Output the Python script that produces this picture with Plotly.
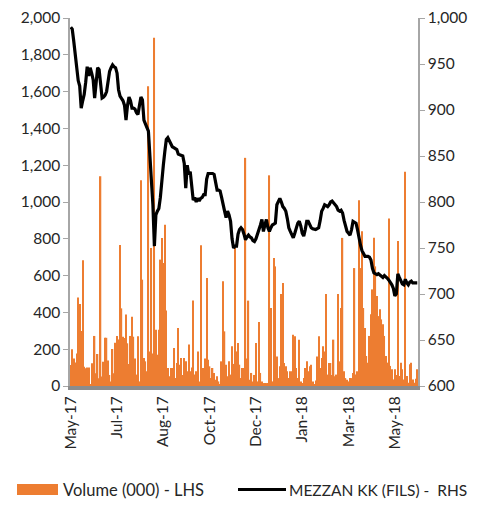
import plotly.graph_objects as go

# ---- data ----
tick_labels = ["May-17", "Jul-17", "Aug-17", "Oct-17", "Dec-17", "Jan-18", "Mar-18", "May-18"]
tick_positions = [0, 31, 62, 93, 124, 155, 186, 217]

volume = [
    114, 200, 150, 128, 177, 481, 445, 299, 684, 105,
    96, 100, 101, 10, 123, 60, 272, 69, 174, 42,
    1140, 51, 132, 262, 262, 138, 60, 24, 201, 69,
    235, 272, 253, 766, 422, 268, 261, 389, 232, 120,
    272, 377, 268, 150, 62, 270, 25, 1118, 578, 152,
    134, 80, 1629, 188, 750, 177, 1892, 306, 170, 306,
    687, 805, 669, 877, 410, 98, 53, 98, 98, 207,
    43, 125, 315, 116, 152, 60, 152, 134, 80, 225,
    80, 100, 464, 62, 80, 188, 25, 765, 98, 98,
    150, 587, 143, 107, 43, 98, 71, 34, 53, 25,
    7, 134, 569, 297, 116, 53, 134, 62, 216, 120,
    750, 188, 234, 116, 43, 98, 98, 1240, 150, 464,
    34, 71, 25, 60, 234, 25, 348, 71, 25, 16,
    16, 16, 16, 1145, 424, 25, 696, 650, 161, 43,
    107, 500, 560, 125, 107, 80, 43, 80, 80, 279,
    270, 98, 43, 252, 25, 16, 43, 98, 134, 80,
    107, 116, 25, 7, 30, 161, 270, 98, 152, 216,
    188, 500, 62, 125, 125, 60, 252, 53, 62, 500,
    134, 424, 805, 80, 43, 34, 25, 43, 43, 71,
    641, 62, 80, 1010, 641, 841, 424, 315, 163, 127,
    272, 390, 525, 806, 650, 489, 380, 417, 362, 335,
    272, 163, 127, 910, 109, 91, 36, 91, 60, 788,
    54, 127, 91, 36, 1165, 54, 18, 118, 127, 36,
    18, 40, 91,
]

price = [
    990, 988, 975, 960, 940, 932, 926, 902, 910, 917,
    930, 947, 937, 946, 940, 933, 913, 930, 946, 944,
    925, 913, 914, 916, 920, 935, 942, 946, 949, 947,
    946, 940, 922, 915, 913, 910, 905, 889, 905, 914,
    910, 902, 902, 901, 897, 895, 905, 914, 911, 889,
    885, 881, 877, 850, 824, 797, 752, 786, 790, 793,
    805, 819, 840, 855, 868, 870, 866, 863, 860, 859,
    858, 857, 852, 851, 851, 850, 842, 815, 840, 830,
    833, 815, 802, 805, 800, 804, 801, 804, 805, 808,
    808, 825, 831, 831, 831, 831, 830, 822, 813, 813,
    812, 805, 795, 790, 783, 790, 786, 779, 760, 750,
    752, 752, 765, 770, 772, 770, 765, 759, 762, 764,
    762, 761, 758, 757, 760, 765, 768, 775, 781, 768,
    775, 781, 772, 768, 772, 775, 776, 777, 797, 800,
    804, 800, 795, 793, 790, 782, 772, 768, 764, 761,
    766, 773, 777, 779, 774, 766, 763, 770, 779, 779,
    775, 772, 771, 770, 770, 771, 772, 780, 790, 793,
    797, 796, 795, 797, 800, 801, 799, 797, 795, 791,
    790, 791, 788, 780, 773, 768, 766, 764, 770, 779,
    778, 777, 770, 760, 753, 747, 743, 741, 741, 741,
    740, 737, 728, 723, 722, 721, 722, 721, 719, 718,
    720, 719, 717, 715, 713, 710, 706, 698, 700, 722,
    718, 714, 711, 710, 716, 712, 710, 713, 714, 712,
    712, 712, 712,
]

series_names = ["Volume (000) - LHS", "MEZZAN KK (FILS) -\u00a0\u00a0RHS"]

x = list(range(len(price)))

FONT = "Lato"
TXT = "#262626"
TICK_SIZE = 15.5
LEG_SIZE = 15.5

# page body has an 8px default margin, so the figure is sized/offset to compensate
OFF = 8
W, H = 482 - OFF, 527 - OFF
ML, MR, MT, MB = 70 - OFF, 64, 18 - OFF, 141

fig = go.Figure()
fig.add_trace(go.Bar(
    x=x, y=volume, name=series_names[0],
    marker=dict(color="#ED7D31", line=dict(width=0)),
    yaxis="y",
))
fig.add_trace(go.Scatter(
    x=x, y=price, name=series_names[1],
    mode="lines", line=dict(color="#000000", width=3.2),
    yaxis="y2",
))

fig.update_layout(
    width=W, height=H,
    margin=dict(l=ML, r=MR, t=MT, b=MB, autoexpand=False),
    paper_bgcolor="white", plot_bgcolor="white",
    showlegend=False,
    bargap=0.12,
    font=dict(family=FONT, size=TICK_SIZE, color=TXT),
    xaxis=dict(
        range=[-0.5, len(price) - 0.5],
        tickmode="array", tickvals=tick_positions, ticktext=tick_labels,
        tickangle=-90, showgrid=False, zeroline=False,
        showline=True, linecolor="#8c8c8c", linewidth=4,
        ticks="", tickfont=dict(family=FONT, size=TICK_SIZE, color=TXT),
    ),
    yaxis=dict(
        range=[0, 2000], dtick=200, tickformat=",d",
        showgrid=False, zeroline=False,
        showline=True, linecolor="#a6a6a6", linewidth=1.5,
        ticks="outside", ticklen=5, tickcolor="#a6a6a6",
        tickfont=dict(family=FONT, size=TICK_SIZE, color=TXT),
    ),
    yaxis2=dict(
        range=[600, 1000], dtick=50, tickformat=",d",
        overlaying="y", side="right",
        showgrid=False, zeroline=False,
        showline=True, linecolor="#a6a6a6", linewidth=1.5,
        ticks="outside", ticklen=5, tickcolor="#a6a6a6",
        tickfont=dict(family=FONT, size=TICK_SIZE, color=TXT),
    ),
)

# custom legend at the bottom (paper coordinates, from target page pixels)
plot_w = W - ML - MR
plot_h = H - MT - MB
def px_x(p):
    return (p - OFF - ML) / plot_w
def px_y(p):
    return (H - MB - (p - OFF)) / plot_h

fig.add_shape(type="rect", xref="paper", yref="paper",
              x0=px_x(17), x1=px_x(58), y0=px_y(495), y1=px_y(484),
              fillcolor="#ED7D31", line=dict(width=0))
fig.add_shape(type="line", xref="paper", yref="paper",
              x0=px_x(238), x1=px_x(286), y0=px_y(489.5), y1=px_y(489.5),
              line=dict(color="#000000", width=3))
fig.add_annotation(xref="paper", yref="paper", x=px_x(61), y=px_y(490),
                   text=series_names[0], showarrow=False,
                   xanchor="left", yanchor="middle",
                   font=dict(family=FONT, size=LEG_SIZE + 1, color=TXT))
fig.add_annotation(xref="paper", yref="paper", x=px_x(287), y=px_y(490),
                   text=series_names[1], showarrow=False,
                   xanchor="left", yanchor="middle",
                   font=dict(family=FONT, size=LEG_SIZE, color=TXT))

fig.write_html("out.html")
